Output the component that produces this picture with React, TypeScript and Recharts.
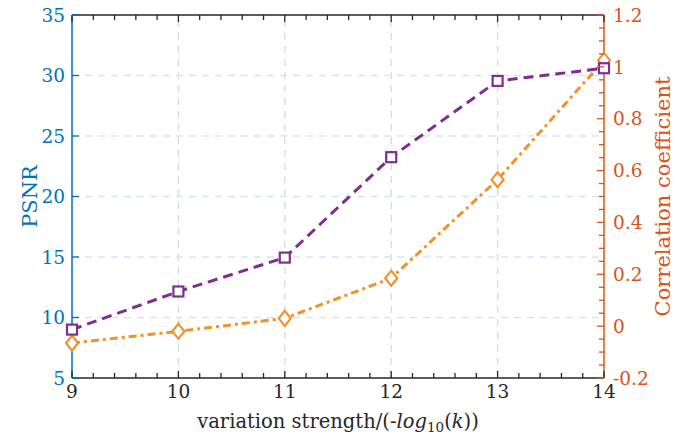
import React from 'react';
import {
  LineChart,
  Line,
  XAxis,
  YAxis,
  ReferenceLine,
} from 'recharts';

// variation strength (x) and the two measured series
const strength = [9, 10, 11, 12, 13, 14];
const psnr = [9.0, 12.15, 14.95, 23.25, 29.55, 30.6];
const correlation = [-0.065, -0.02, 0.03, 0.185, 0.565, 1.025];

// tick values (minor ones included, labels only drawn on the major ones)
const xTicks = [
  9, 9.2, 9.4, 9.6, 9.8, 10, 10.2, 10.4, 10.6, 10.8, 11, 11.2, 11.4, 11.6, 11.8,
  12, 12.2, 12.4, 12.6, 12.8, 13, 13.2, 13.4, 13.6, 13.8, 14,
];
const psnrTicks = [5, 10, 15, 20, 25, 30, 35];
const corrTicks = [
  -0.2, -0.15, -0.1, -0.05, 0, 0.05, 0.1, 0.15, 0.2, 0.25, 0.3, 0.35, 0.4, 0.45,
  0.5, 0.55, 0.6, 0.65, 0.7, 0.75, 0.8, 0.85, 0.9, 0.95, 1, 1.05, 1.1, 1.15, 1.2,
];
const xGrid = [10, 11, 12, 13];
const yGrid = [10, 15, 20, 25, 30];

const data = strength.map((s, i) => ({ x: s, psnr: psnr[i], corr: correlation[i] }));

// Liberation Serif falls back to a sans face in the sandbox, DejaVu Serif is the one that works
const FONT = "'DejaVu Serif', serif";
const BLUE = '#0072BD';
const RED = '#D95319';
const PURPLE = '#7E2F8E';
const ORANGE = '#F0922B';
const DARK = '#262626';

const txt = (size: number, color: string): React.CSSProperties => ({
  fontFamily: FONT,
  fontSize: size,
  fill: color,
});

const isMajor = (v: number, step: number) => Math.abs(v / step - Math.round(v / step)) < 1e-6;

const fmtCorr = (v: number) => {
  const r = Math.round(v * 10) / 10;
  return r === 0 ? '0' : String(r);
};

const BottomTick = (props: any) => {
  const { x, y, payload } = props;
  const v = payload.value;
  const major = isMajor(v, 1);
  return (
    <g>
      <line x1={x} x2={x} y1={y} y2={y - (major ? 7 : 5)} stroke={DARK} strokeWidth={1.3} />
      {major && (
        <text x={x} y={y + 20} textAnchor="middle" style={txt(18.5, DARK)}>
          {v}
        </text>
      )}
    </g>
  );
};

const TopTick = (props: any) => {
  const { x, y, payload } = props;
  const major = isMajor(payload.value, 1);
  return <line x1={x} x2={x} y1={y} y2={y + (major ? 7 : 5)} stroke={DARK} strokeWidth={1.3} />;
};

const LeftTick = (props: any) => {
  const { x, y, payload } = props;
  return (
    <g>
      <line x1={x} x2={x + 7} y1={y} y2={y} stroke={BLUE} strokeWidth={1.3} />
      <text x={x - 7} y={y} dy="0.36em" textAnchor="end" style={txt(18.5, BLUE)}>
        {payload.value}
      </text>
    </g>
  );
};

const RightTick = (props: any) => {
  const { x, y, payload } = props;
  const v = payload.value;
  const major = isMajor(v, 0.2);
  return (
    <g>
      <line x1={x} x2={x - (major ? 7 : 5)} y1={y} y2={y} stroke={RED} strokeWidth={1.3} />
      {major && (
        <text x={x + 9} y={y} dy="0.36em" textAnchor="start" style={txt(18.5, RED)}>
          {fmtCorr(v)}
        </text>
      )}
    </g>
  );
};

const SquareDot = (props: any) => {
  const { cx, cy } = props;
  if (cx == null || cy == null) return null;
  return <rect x={cx - 5} y={cy - 5} width={10} height={10} fill="#fff" stroke={PURPLE} strokeWidth={2.2} />;
};

const DiamondDot = (props: any) => {
  const { cx, cy } = props;
  if (cx == null || cy == null) return null;
  return (
    <path
      d={`M${cx},${cy - 7.5}L${cx + 6},${cy}L${cx},${cy + 7.5}L${cx - 6},${cy}Z`}
      fill="#fff"
      stroke={ORANGE}
      strokeWidth={2.2}
    />
  );
};

const XLabel = (props: any) => {
  const { viewBox } = props;
  const cx = viewBox.x + viewBox.width / 2;
  return (
    <text x={cx} y={viewBox.y + 50} textAnchor="middle" style={txt(19.5, DARK)}>
      variation strength/(-
      <tspan style={{ fontStyle: 'italic' }}>log</tspan>
      <tspan style={{ fontSize: 13.5 }} dy={4}>10</tspan>
      <tspan dy={-4}>(</tspan>
      <tspan style={{ fontStyle: 'italic' }}>k</tspan>
      ))
    </text>
  );
};

const LeftLabel = (props: any) => {
  const { viewBox } = props;
  const x = viewBox.x + 30;
  const y = viewBox.y + viewBox.height / 2;
  return (
    <text
      x={x}
      y={y}
      transform={`rotate(-90, ${x}, ${y})`}
      textAnchor="middle"
      dominantBaseline="central"
      style={txt(21, BLUE)}
    >
      PSNR
    </text>
  );
};

const RightLabel = (props: any) => {
  const { viewBox } = props;
  const x = viewBox.x + 59;
  const y = viewBox.y + viewBox.height / 2;
  return (
    <text
      x={x}
      y={y}
      transform={`rotate(-90, ${x}, ${y})`}
      textAnchor="middle"
      dominantBaseline="central"
      style={txt(21, RED)}
    >
      Correlation coefficient
    </text>
  );
};

export default function App() {
  return (
    <div style={{ position: 'absolute', left: 0, top: 0, width: 684, height: 436, background: '#fff' }}>
      <LineChart
        width={684}
        height={436}
        data={data}
        margin={{ top: 14, right: 0, bottom: 0, left: 0 }}
      >
        <XAxis
          xAxisId="bottom"
          dataKey="x"
          type="number"
          domain={[9, 14]}
          ticks={xTicks}
          interval={0}
          height={58}
          tickSize={0}
          tickMargin={0}
          tickLine={false}
          axisLine={{ stroke: DARK, strokeWidth: 1.3 }}
          tick={<BottomTick />}
          label={XLabel}
        />
        <XAxis
          xAxisId="top"
          dataKey="x"
          type="number"
          orientation="top"
          domain={[9, 14]}
          ticks={xTicks}
          interval={0}
          height={1}
          tickSize={0}
          tickMargin={0}
          tickLine={false}
          axisLine={{ stroke: DARK, strokeWidth: 1.3 }}
          tick={<TopTick />}
        />
        <YAxis
          yAxisId="left"
          type="number"
          domain={[5, 35]}
          ticks={psnrTicks}
          interval={0}
          width={72}
          tickSize={0}
          tickMargin={0}
          tickLine={false}
          axisLine={{ stroke: BLUE, strokeWidth: 1.5 }}
          tick={<LeftTick />}
          label={LeftLabel}
        />
        <YAxis
          yAxisId="right"
          orientation="right"
          type="number"
          domain={[-0.2, 1.2]}
          ticks={corrTicks}
          interval={0}
          width={80}
          tickSize={0}
          tickMargin={0}
          tickLine={false}
          axisLine={{ stroke: RED, strokeWidth: 1.5 }}
          tick={<RightTick />}
          label={RightLabel}
        />
        {xGrid.map((v) => (
          <ReferenceLine
            key={`vx-${v}`}
            x={v}
            xAxisId="bottom"
            yAxisId="left"
            stroke="#D9D9D9"
            strokeWidth={1.3}
            strokeDasharray="7 6"
          />
        ))}
        {yGrid.map((v) => (
          <ReferenceLine
            key={`hy-${v}`}
            y={v}
            xAxisId="bottom"
            yAxisId="left"
            stroke="#D5E6F3"
            strokeWidth={1.3}
            strokeDasharray="7 6"
          />
        ))}
        <Line
          xAxisId="bottom"
          yAxisId="right"
          dataKey="corr"
          stroke={ORANGE}
          strokeWidth={3}
          strokeDasharray="8 4 3 4"
          dot={<DiamondDot />}
          activeDot={false}
          isAnimationActive={false}
        />
        <Line
          xAxisId="bottom"
          yAxisId="left"
          dataKey="psnr"
          stroke={PURPLE}
          strokeWidth={3}
          strokeDasharray="10 6"
          dot={<SquareDot />}
          activeDot={false}
          isAnimationActive={false}
        />
      </LineChart>
    </div>
  );
}
